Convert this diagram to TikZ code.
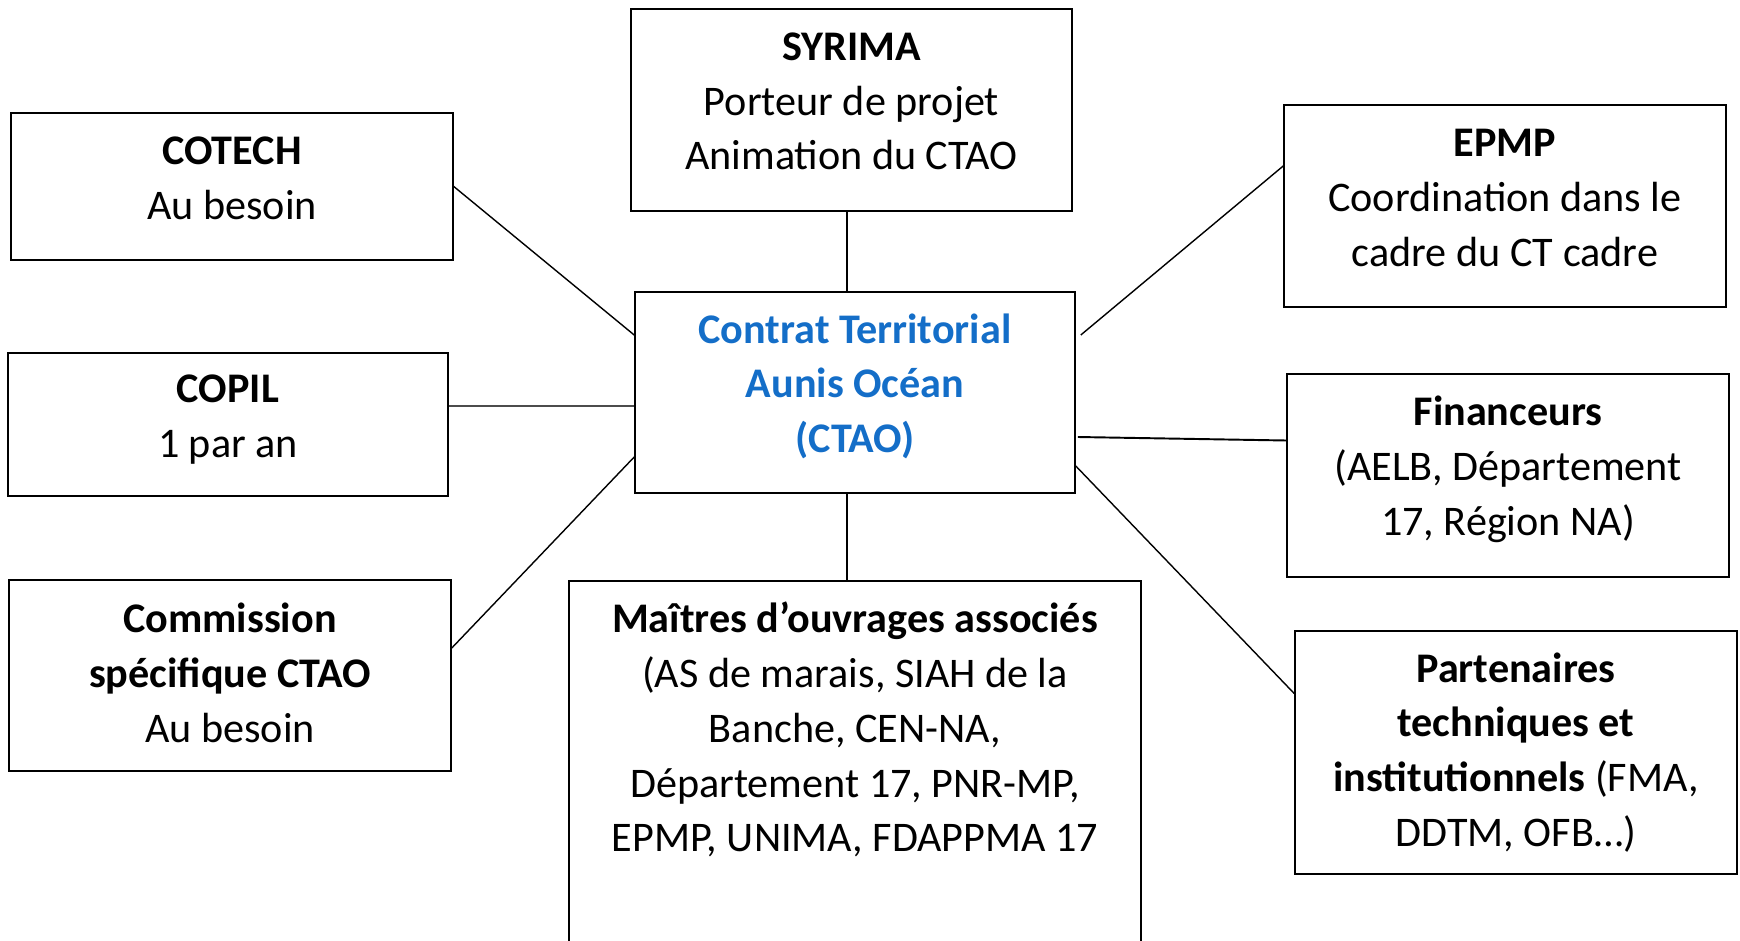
\documentclass[tikz,border=0pt]{standalone}
\usepackage{fontspec}
\setmainfont{Carlito}
\usepackage{xcolor}
\usepackage{tikz}

\definecolor{ctaoblue}{RGB}{20,110,200}
% extra depth under the last line, lifts the text inside its box
\newcommand{\padbelow}[1]{\rule[-#1]{0pt}{#1}}

\begin{document}
\begin{tikzpicture}[
    box/.style={draw, line width=0.45pt, minimum width=4.41cm, inner sep=0pt,
        align=center, font=\fontsize{12}{15.6}\selectfont},
    link/.style={line width=0.4pt}
]

    \useasboundingbox (0,0) rectangle (17.40,9.40);

    % Centre
    \node[box, minimum width=4.40cm, minimum height=2.01cm, text=ctaoblue]
        (ctao) at (8.55,5.475)
        {\textbf{Contrat Territorial}\\ \textbf{Aunis Océan}\\ \textbf{(CTAO)}\padbelow{5.3pt}};

    % Top
    \node[box, minimum height=2.02cm] (syrima) at (8.515,8.30)
        {\textbf{SYRIMA}\\ Porteur de projet\\ Animation du CTAO\padbelow{5pt}};

    % Left column
    \node[box, minimum width=4.42cm, minimum height=1.47cm] (cotech) at (2.32,7.535)
        {\textbf{COTECH}\\ Au besoin\padbelow{4.7pt}};
    \node[box, minimum width=4.40cm, minimum height=1.43cm] (copil) at (2.28,5.155)
        {\textbf{COPIL}\\ 1 par an\padbelow{4.9pt}};
    \node[box, minimum width=4.42cm, minimum height=1.91cm] (comm) at (2.30,2.645)
        {\textbf{Commission}\\ \textbf{spécifique CTAO}\\ Au besoin\padbelow{1.6pt}};

    % Right column
    \node[box, minimum width=4.42cm, minimum height=2.02cm] (epmp) at (15.05,7.34)
        {\textbf{EPMP}\\ Coordination dans le\\ cadre du CT cadre\padbelow{4.7pt}};
    \node[box, minimum width=4.42cm, minimum height=2.03cm] (fin) at (15.08,4.645)
        {\textbf{Financeurs}\\ (AELB, Département\\ 17, Région NA)\padbelow{5.5pt}};
    \node[box, minimum width=4.42cm, minimum height=2.43cm] (part) at (15.16,1.875)
        {\textbf{Partenaires}\\ \textbf{techniques et}\\ \textbf{institutionnels} (FMA,\\ DDTM, OFB…)};

    % Bottom (runs off the page)
    \node[box, anchor=north, minimum width=5.72cm, inner ysep=6pt, text depth=4cm]
        (mao) at (8.55,3.60)
        {\textbf{Maîtres d’ouvrages associés}\\ (AS de marais, SIAH de la\\ Banche, CEN-NA,\\
         Département 17, PNR-MP,\\ EPMP, UNIMA, FDAPPMA 17};

    % Links
    \draw[link] ([xshift=-0.08cm]ctao.north) -- ([xshift=-0.08cm]ctao.north |- syrima.south);
    \draw[link] ([xshift=-0.08cm]ctao.south) -- ([xshift=-0.08cm]ctao.south |- mao.north);
    \draw[link] (cotech.east) -- ([yshift=0.575cm]ctao.west);
    \draw[line width=0.7pt, black!70] ([yshift=0.185cm]copil.east) coordinate (copilend)
        -- (copilend -| ctao.west);
    \draw[link] ([yshift=0.275cm]comm.east) -- ([yshift=-0.645cm]ctao.west);
    \draw[link] ([yshift=0.40cm]epmp.west) -- ([xshift=0.05cm,yshift=0.575cm]ctao.east);
    \draw[line width=0.55pt] ([yshift=0.35cm]fin.west) -- ([xshift=0.02cm,yshift=-0.445cm]ctao.east);
    \draw[link] ([yshift=0.59cm]part.west) -- ([yshift=-0.735cm]ctao.east);

\end{tikzpicture}
\end{document}
